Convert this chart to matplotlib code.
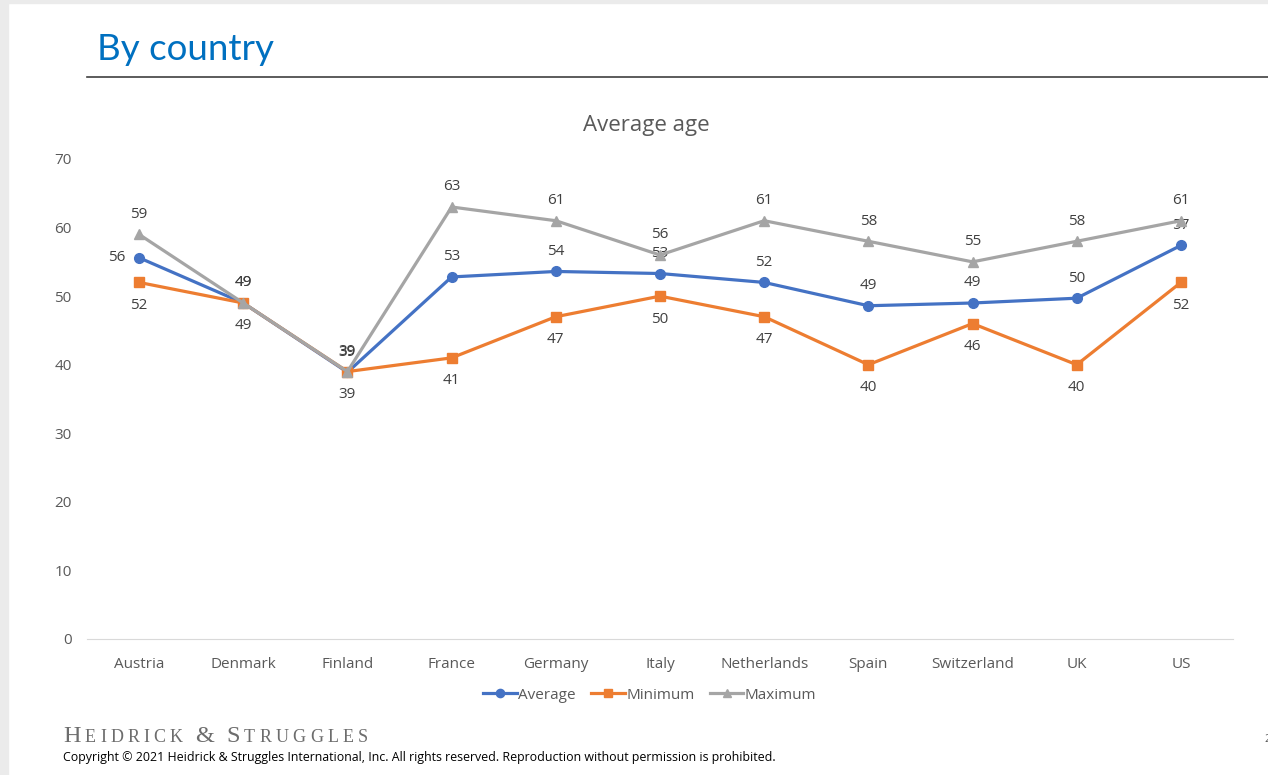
import matplotlib
matplotlib.use("Agg")
import matplotlib.pyplot as plt
from matplotlib.patches import Rectangle
from matplotlib.lines import Line2D

countries = ["Austria", "Denmark", "Finland", "France", "Germany", "Italy",
             "Netherlands", "Spain", "Switzerland", "UK", "US"]
average = [55.6, 49.0, 38.9, 52.8, 53.6, 53.3, 52.0, 48.6, 49.0, 49.7, 57.4]
minimum = [52, 49, 39, 41, 47, 50, 47, 40, 46, 40, 52]
maximum = [59, 49, 39, 63, 61, 56, 61, 58, 55, 58, 61]
yticks = [0, 10, 20, 30, 40, 50, 60, 70]

blue = "#4472c4"
orange = "#ed7d31"
grey = "#a5a5a5"
txt = "#595959"
lab = "#404040"

plt.rcParams["font.family"] = ["Open Sans", "DejaVu Sans"]

fig = plt.figure(figsize=(12.68, 7.75), dpi=100)
fig.patch.set_facecolor("white")

# slide border strips
fig.add_artist(Rectangle((0, 0), 8 / 1268, 1, transform=fig.transFigure, color="#ebebeb", zorder=0))
fig.add_artist(Rectangle((0, 1 - 3 / 775), 1, 3 / 775, transform=fig.transFigure, color="#ebebeb", zorder=0))

# slide title and rule
fig.text(97 / 1268, 1 - 50 / 775, "By country", color="#0070c0", fontsize=26.5,
         va="center", ha="left", family=["Lato", "DejaVu Sans"])
fig.add_artist(Line2D([87 / 1268, 1], [1 - 77 / 775] * 2, transform=fig.transFigure,
                      color="#404040", lw=1.2))

ax = fig.add_axes([87 / 1268, 1 - 639 / 775, (1233 - 87) / 1268, 480 / 775])
x = list(range(len(countries)))

ax.plot(x, average, color=blue, lw=2.3, marker="o", ms=7, zorder=3, label="Average")
ax.plot(x, minimum, color=orange, lw=2.3, marker="s", ms=7, zorder=3, label="Minimum")
ax.plot(x, maximum, color=grey, lw=2.3, marker="^", ms=7, zorder=4, label="Maximum")

for i in x:
    if i == 0:
        ax.annotate(f"{average[i]:.0f}", (i, average[i]), xytext=(-14, 0), textcoords="offset pixels",
                    ha="right", va="center", fontsize=11, color=lab)
    else:
        ax.annotate(f"{average[i]:.0f}", (i, average[i]), xytext=(0, 20), textcoords="offset pixels",
                    ha="center", va="center", fontsize=11, color=lab)
    ax.annotate(f"{minimum[i]:.0f}", (i, minimum[i]), xytext=(0, -23), textcoords="offset pixels",
                ha="center", va="center", fontsize=11, color=lab)
    ax.annotate(f"{maximum[i]:.0f}", (i, maximum[i]), xytext=(0, 20), textcoords="offset pixels",
                ha="center", va="center", fontsize=11, color=lab)

ax.set_xlim(-0.5, len(countries) - 0.5)
ax.set_ylim(0, 70)
ax.set_yticks(yticks)
ax.set_xticks(x)
ax.set_xticklabels(countries)
ax.tick_params(axis="both", length=0, labelsize=11, colors=txt)
ax.tick_params(axis="y", pad=11)
ax.tick_params(axis="x", pad=13)
for s in ["top", "right", "left"]:
    ax.spines[s].set_visible(False)
ax.spines["bottom"].set_color("#d9d9d9")

fig.text(646 / 1268, 1 - 125 / 775, "Average age", fontsize=16, color=txt, ha="center", va="center")

ax.legend(loc="center", bbox_to_anchor=(0.491, -0.117), ncol=3, frameon=False,
          fontsize=11, labelcolor=txt, handlelength=2.2, handletextpad=0.1, columnspacing=1.0,
          markerscale=0.85)

# footer: small caps company name, letter-spaced
renderer = fig.canvas.get_renderer()
name = "HEIDRICK & STRUGGLES"
caps_at = {0, 9, 11}
xpos = 63
for k, ch in enumerate(name):
    size = 17.5 if k in caps_at else 13
    s = ch if ch != " " else "\u00a0"
    t = fig.text(xpos / 1268, 1 - 742 / 775, s, fontsize=size, color="#6d6d6d",
                 family=["Liberation Serif", "DejaVu Serif"], va="baseline", ha="left")
    if ch == " ":
        xpos += 8
    else:
        xpos += t.get_window_extent(renderer).width + 4.2

fig.text(63 / 1268, 1 - 757 / 775, "Copyright © 2021 Heidrick & Struggles International, Inc. "
         "All rights reserved. Reproduction without permission is prohibited.",
         fontsize=8.95, color="black", va="center", ha="left")
fig.text(1264 / 1268, 1 - 740 / 775, "2", fontsize=8, color=txt, va="center", ha="left")

fig.savefig("out.png", dpi=100)
